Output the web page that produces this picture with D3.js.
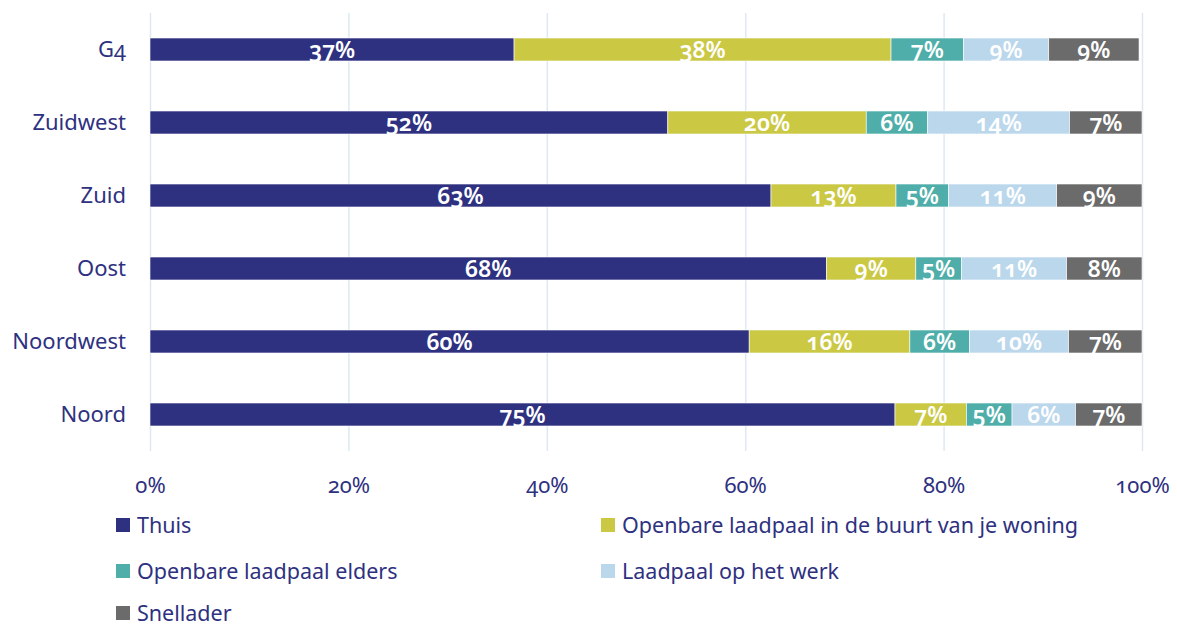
<!DOCTYPE html>
<html>
<head>
<meta charset="utf-8">
<script src="https://cdnjs.cloudflare.com/ajax/libs/d3/7.8.5/d3.min.js"></script>
<style>
    body { margin: 0; background: #fff; }
    svg text { font-family: "Noto Sans", "Open Sans", sans-serif; font-variant-numeric: oldstyle-nums; font-feature-settings: "onum" 1; }
</style>
</head>
<body>
<svg id="chart" width="1177" height="628"></svg>
<script>
// regio's, van boven naar beneden
var regions = ["G4", "Zuidwest", "Zuid", "Oost", "Noordwest", "Noord"];

var seriesNames = [
    "Thuis",
    "Openbare laadpaal in de buurt van je woning",
    "Openbare laadpaal elders",
    "Laadpaal op het werk",
    "Snellader"
];

// aandeel (%) per regio, zelfde volgorde als regions
var thuis    = [36.7, 52.2, 62.6, 68.2, 60.4, 75.1];
var buurt    = [38.0, 20.0, 12.6,  9.0, 16.2,  7.2];
var elders   = [ 7.3,  6.2,  5.3,  4.6,  6.0,  4.6];
var werk     = [ 8.6, 14.3, 10.9, 10.6, 10.0,  6.4];
var snel     = [ 9.1,  7.3,  8.6,  7.6,  7.4,  6.7];

var xTicks = [0, 20, 40, 60, 80, 100];

var colors = ["#2e3180", "#cbc844", "#4faea9", "#bbd7ec", "#6b6b6b"];
var textColor = "#2e3180";

var svg = d3.select("#chart");

var x = d3.scaleLinear().domain([0, 100]).range([150, 1142]);
var y = d3.scaleBand().domain(regions).range([13, 451])
    .paddingInner(0.685).paddingOuter(0.3425);

// tabel voor d3.stack
var table = regions.map(function (r, i) {
    return {region: r, s0: thuis[i], s1: buurt[i], s2: elders[i], s3: werk[i], s4: snel[i]};
});
var keys = ["s0", "s1", "s2", "s3", "s4"];
var stacked = d3.stack().keys(keys)(table);

//x-as met rasterlijnen
var xAxis = d3.axisBottom(x)
    .tickValues(xTicks)
    .tickSize(-(451 - 13))
    .tickPadding(26)
    .tickFormat(function (d) { return d + "%"; });

var axisG = svg.append("g")
    .attr("transform", "translate(0,451)")
    .call(xAxis);
axisG.select(".domain").remove();
axisG.selectAll(".tick line")
    .attr("stroke", "#dce9f4")
    .attr("stroke-width", 1.5);
axisG.selectAll(".tick text")
    .attr("fill", textColor)
    .style("font-size", "22px");

// categorie labels
svg.append("g")
    .selectAll("text")
    .data(regions)
    .enter()
    .append("text")
    .attr("x", 126)
    .attr("y", function (d) { return y(d) + y.bandwidth() / 2; })
    .attr("dy", "0.35em")
    .attr("text-anchor", "end")
    .attr("fill", textColor)
    .style("font-size", "22px")
    .text(function (d) { return d; });

// balken
var layers = svg.append("g")
    .selectAll("g")
    .data(stacked)
    .enter()
    .append("g")
    .attr("fill", function (d, i) { return colors[i]; });

layers.selectAll("rect")
    .data(function (d) { return d; })
    .enter()
    .append("rect")
    .attr("x", function (d) { return x(d[0]); })
    .attr("y", function (d) { return y(d.data.region); })
    .attr("width", function (d) { return x(d[1]) - x(d[0]); })
    .attr("height", y.bandwidth())
    .attr("stroke", "#ffffff")
    .attr("stroke-width", 0.6);

layers.selectAll("text")
    .data(function (d) { return d; })
    .enter()
    .append("text")
    .attr("x", function (d) { return (x(d[0]) + x(d[1])) / 2; })
    .attr("y", function (d) { return y(d.data.region) + y.bandwidth() / 2 + 8; })
    .attr("text-anchor", "middle")
    .attr("fill", "#ffffff")
    .style("font-size", "23px")
    .style("font-weight", "600")
    .text(function (d) { return Math.round(d[1] - d[0]) + "%"; });

// legenda
var legendPos = [[116, 525], [601, 525], [116, 571], [601, 571], [116, 613]];

var legend = svg.append("g")
    .selectAll("g")
    .data(seriesNames)
    .enter()
    .append("g")
    .attr("transform", function (d, i) {
        return "translate(" + legendPos[i][0] + "," + legendPos[i][1] + ")";
    });

legend.append("rect")
    .attr("x", 0)
    .attr("y", -7)
    .attr("width", 14)
    .attr("height", 14)
    .attr("fill", function (d, i) { return colors[i]; });

legend.append("text")
    .attr("x", 21)
    .attr("y", 0)
    .attr("dy", "0.35em")
    .attr("fill", textColor)
    .style("font-size", "21.5px")
    .text(function (d) { return d; });
</script>
</body>
</html>
